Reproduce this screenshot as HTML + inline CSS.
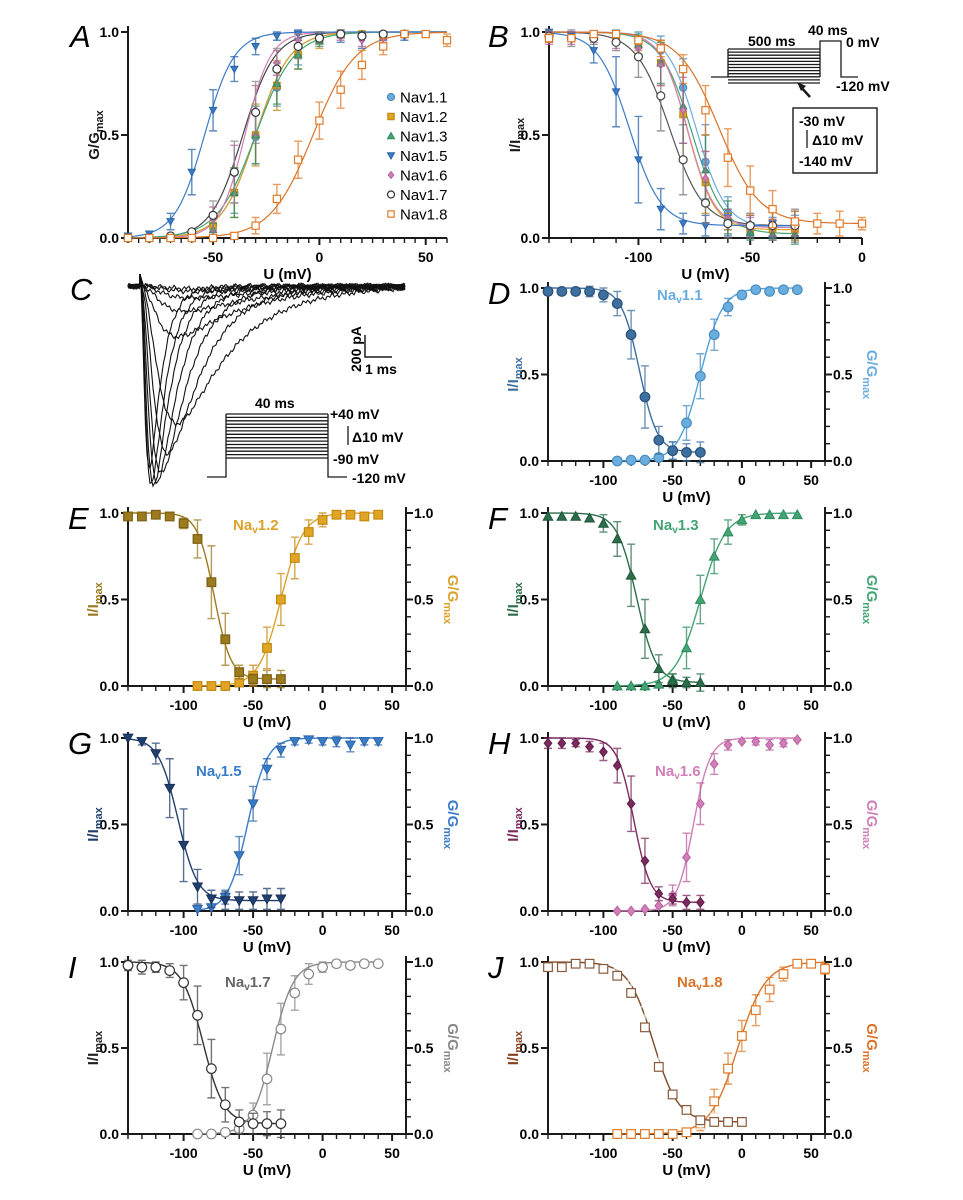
<!DOCTYPE html>
<html><head><meta charset="utf-8">
<style>
html,body{margin:0;padding:0;background:#fff;}
svg{display:block;font-family:"Liberation Sans",Arial,sans-serif;}
.tk{font-weight:bold;font-size:14px;}
.al{font-weight:bold;font-size:15px;}
.pl{font-style:italic;font-size:31px;}
</style></head>
<body>
<svg id="fig" width="963" height="1200" viewBox="0 0 963 1200"></svg>
<script>
// ---------- categories ----------
const vInact = [-140,-130,-120,-110,-100,-90,-80,-70,-60,-50,-40,-30];
const vAct = [-90,-80,-70,-60,-50,-40,-30,-20,-10,0,10,20,30,40];
const vInact18 = [-140,-130,-120,-110,-100,-90,-80,-70,-60,-50,-40,-30,-20,-10,0];
const vAct18 = [-90,-80,-70,-60,-50,-40,-30,-20,-10,0,10,20,30,40,50,60];
const channelNames = ["Nav1.1","Nav1.2","Nav1.3","Nav1.5","Nav1.6","Nav1.7","Nav1.8"];
// ---------- series values ----------
const nav11Inact = [0.98,0.98,0.98,0.98,0.96,0.91,0.73,0.37,0.12,0.06,0.05,0.05];
const nav11InactErr = [0.02,0.02,0.02,0.03,0.04,0.07,0.14,0.18,0.08,0.05,0.05,0.06];
const nav11Act = [0,0.005,0.005,0.02,0.06,0.22,0.49,0.73,0.89,0.96,0.99,0.98,0.99,0.99];
const nav11ActErr = [0,0,0,0.02,0.05,0.10,0.13,0.09,0.05,0.02,0.01,0.01,0.01,0.01];
const nav12Inact = [0.98,0.98,0.99,0.98,0.94,0.85,0.60,0.27,0.08,0.04,0.04,0.04];
const nav12InactErr = [0.01,0.01,0.01,0.01,0.03,0.11,0.21,0.15,0.04,0.03,0.05,0.05];
const nav12Act = [0,0,0,0.02,0.06,0.22,0.50,0.74,0.89,0.96,0.99,0.99,0.98,0.99];
const nav12ActErr = [0,0,0,0,0.06,0.12,0.15,0.12,0.07,0.04,0.01,0.01,0.01,0.01];
const nav13Inact = [0.98,0.98,0.98,0.97,0.94,0.85,0.64,0.33,0.10,0.03,0.02,0.02];
const nav13InactErr = [0.01,0.01,0.01,0.01,0.05,0.10,0.18,0.17,0.08,0.04,0.03,0.05];
const nav13Act = [0,0,0,0.01,0.04,0.22,0.50,0.75,0.89,0.96,0.99,0.99,0.99,0.99];
const nav13ActErr = [0,0,0,0,0.03,0.12,0.14,0.10,0.07,0.03,0.01,0.01,0.01,0.01];
const nav15Inact = [1.0,0.98,0.91,0.71,0.38,0.14,0.07,0.06,0.06,0.06,0.07,0.07];
const nav15InactErr = [0.01,0.02,0.06,0.17,0.21,0.10,0.05,0.05,0.05,0.05,0.06,0.06];
const nav15Act = [0.01,0.02,0.08,0.32,0.62,0.82,0.93,0.98,0.99,0.98,0.98,0.96,0.98,0.98];
const nav15ActErr = [0,0,0.04,0.11,0.10,0.06,0.04,0.02,0.02,0.02,0.03,0.04,0.02,0.02];
const nav16Inact = [0.97,0.97,0.97,0.95,0.92,0.84,0.62,0.29,0.10,0.07,0.05,0.05];
const nav16InactErr = [0.03,0.03,0.02,0.03,0.05,0.10,0.16,0.13,0.04,0.03,0.04,0.04];
const nav16Act = [0,0,0.01,0.03,0.09,0.31,0.62,0.85,0.96,0.98,0.98,0.96,0.97,0.99];
const nav16ActErr = [0,0,0.01,0.01,0.06,0.14,0.12,0.06,0.03,0.01,0.02,0.03,0.02,0.01];
const nav17Inact = [0.98,0.97,0.97,0.95,0.88,0.69,0.38,0.17,0.07,0.06,0.06,0.06];
const nav17InactErr = [0.03,0.04,0.03,0.04,0.10,0.17,0.17,0.10,0.07,0.06,0.07,0.08];
const nav17Act = [0,0,0.01,0.03,0.11,0.32,0.61,0.82,0.93,0.97,0.99,0.98,0.99,0.99];
const nav17ActErr = [0,0,0,0.01,0.07,0.15,0.15,0.10,0.06,0.03,0.02,0.01,0.01,0.01];
const nav18Inact = [0.97,0.97,0.99,0.99,0.96,0.92,0.82,0.62,0.39,0.23,0.14,0.08,0.07,0.07,0.07];
const nav18InactErr = [0.02,0.01,0.01,0.01,0.02,0.04,0.07,0.12,0.14,0.12,0.09,0.05,0.05,0.06,0.03];
const nav18Act = [0,0,0,0,0,0.01,0.06,0.19,0.38,0.57,0.72,0.84,0.93,0.99,0.99,0.96];
const nav18ActErr = [0,0,0,0,0,0.01,0.04,0.07,0.09,0.09,0.09,0.07,0.04,0.01,0.01,0.03];
// Boltzmann fit parameters per channel (order = channelNames)
const fitInactVh = [-74,-78,-76,-104,-78,-86,-64];
const fitInactK = [6.5,6,7,7,6,7.5,9];
const fitInactBottom = [0.05,0.04,0.02,0.06,0.05,0.06,0.07];
const fitActVh = [-30,-30,-30,-54,-35,-36,-3];
const fitActK = [8,8,9,7,6,7.5,10];
// Panel C current traces
const traceAmpPA = [1650,1800,1820,1780,1700,1520,1250,460,230,110,50,25];
const traceRiseMs = [0.15,0.18,0.22,0.28,0.35,0.45,0.55,0.50,0.60,0.70,0.80,0.90];
const traceDecayMs = [0.45,0.55,0.65,0.80,1.00,1.30,2.00,2.50,3.00,3.50,4.00,4.00];

// ---------- helpers ----------
const NS="http://www.w3.org/2000/svg";
const svg=document.getElementById('fig');
function mk(tag,attrs,name,parent,inter){
  const el=document.createElementNS(NS,tag);
  for(const k in attrs) el.setAttribute(k,attrs[k]);
  
  
  (parent||svg).appendChild(el);
  return el;
}
function txt(s,x,y,cls,name,extra,parent){
  const a=Object.assign({x:x,y:y},extra||{});
  if(cls)a['class']=cls;
  const t=mk('text',a,name,parent);
  t.textContent=s;return t;
}
function inactFn(i){return v=>fitInactBottom[i]+(1-fitInactBottom[i])/(1+Math.exp((v-fitInactVh[i])/fitInactK[i]));}
function actFn(i){return v=>1/(1+Math.exp((fitActVh[i]-v)/fitActK[i]));}

const chan=[
 {act:'#6aaee0',actS:'#4a8cc0',ina:'#3d6f9f',inaS:'#2b527a',shape:'circle',curveA:'#4ea3dc',curveI:'#3d6f9f'},
 {act:'#e0a524',actS:'#c48a10',ina:'#9c7a1e',inaS:'#7d6015',shape:'square',curveA:'#dca12a',curveI:'#9c7a1e'},
 {act:'#44a473',actS:'#2f8a5c',ina:'#2c6e4a',inaS:'#1f5538',shape:'tri',curveA:'#44a473',curveI:'#2c6e4a'},
 {act:'#3a7cc8',actS:'#2a64a8',ina:'#213f6e',inaS:'#182f55',shape:'tridown',curveA:'#3a7cc8',curveI:'#213f6e'},
 {act:'#d07fb8',actS:'#b8609e',ina:'#7a2a5e',inaS:'#5e1f48',shape:'diamond',curveA:'#d07fb8',curveI:'#7a2a5e'},
 {act:'#fff',actS:'#8a8a8a',ina:'#fff',inaS:'#333',shape:'circle',curveA:'#8a8a8a',curveI:'#333'},
 {act:'#fff',actS:'#e07b2a',ina:'#fff',inaS:'#8a5a3a',shape:'square',curveA:'#d9742a',curveI:'#7a4a2a'}
];

function marker(g,shape,x,y,fill,stroke,name,s){
  s=s||4.5;
  let el;
  if(shape==='circle') el=mk('circle',{cx:x,cy:y,r:s,fill:fill,stroke:stroke,'stroke-width':1.2},name,g);
  else if(shape==='square') el=mk('rect',{x:x-s*0.9,y:y-s*0.9,width:1.8*s,height:1.8*s,fill:fill,stroke:stroke,'stroke-width':1.2},name,g);
  else if(shape==='tri') el=mk('polygon',{points:`${x},${y-s} ${x+s},${y+s*0.8} ${x-s},${y+s*0.8}`,fill:fill,stroke:stroke,'stroke-width':1},name,g);
  else if(shape==='tridown') el=mk('polygon',{points:`${x},${y+s} ${x+s},${y-s*0.8} ${x-s},${y-s*0.8}`,fill:fill,stroke:stroke,'stroke-width':1},name,g);
  else el=mk('polygon',{points:`${x},${y-s} ${x+s*0.8},${y} ${x},${y+s} ${x-s*0.8},${y}`,fill:fill,stroke:stroke,'stroke-width':1},name,g);
  return el;
}

function makeAxes(p){
  const sx=v=>p.x0+(v-p.xmin)/(p.xmax-p.xmin)*(p.x1-p.x0);
  const sy=v=>p.y0-(v)*(p.y0-p.y1);
  const g=mk('g',{},p.name,svg);
  const ax=mk('g',{stroke:'#1a1a1a','stroke-width':2,fill:'none'},'axes',g);
  mk('line',{x1:p.x0,y1:p.y0,x2:p.x1,y2:p.y0},'x-axis-line',ax);
  mk('line',{x1:p.x0,y1:p.y0,x2:p.x0,y2:p.y1-6},'y-axis-left-line',ax);
  for(let v=p.xmin;v<=p.xmax;v+=p.minor){
    const major=(v%50===0);
    mk('line',{x1:sx(v),y1:p.y0,x2:sx(v),y2:p.y0+(major?7:5),'stroke-width':major?2:1.4},'x-tick',ax);
  }
  for(let v=0;v<=1.001;v+=0.5){
    mk('line',{x1:p.x0-7,y1:sy(v),x2:p.x0,y2:sy(v)},'y-tick-left',ax);
    txt(v.toFixed(1),p.x0-9,sy(v)+5,'tk','y-tick-label',{'text-anchor':'end'},g);
  }
  if(p.dual){
    mk('line',{x1:p.x1,y1:p.y0,x2:p.x1,y2:p.y1-6},'y-axis-right-line',ax);
    for(let k=0;k<=10;k++){
      const v=k/10, major=(k%5===0);
      mk('line',{x1:p.x1,y1:sy(v),x2:p.x1+(major?7:5),y2:sy(v),'stroke-width':major?2:1.4},'y-tick-right',ax);
      if(major) txt(v.toFixed(1),p.x1+8,sy(v)+5,'tk','y-tick-label-right',{},g);
    }
  }
  p.xticks.forEach(v=>txt(String(v),sx(v),p.y0+24,'tk','x-tick-label',{'text-anchor':'middle'},g));
  txt('U (mV)',(p.x0+p.x1)/2,p.y0+41,'al','x-axis-title',{'text-anchor':'middle'},g);
  txt(p.letter,p.lx,p.ly,'pl','panel-letter-'+p.letter.toLowerCase(),{},g);
  return {g,sx,sy};
}

function yTitle(g,x,y,main,sub,color,rot,name){
  const t=mk('text',{x:0,y:0,transform:`translate(${x},${y}) rotate(${rot})`,'text-anchor':'middle',fill:color,'font-weight':'bold','font-size':'15px'},name,g);
  const a=document.createElementNS(NS,'tspan');a.textContent=main;t.appendChild(a);
  const b=document.createElementNS(NS,'tspan');b.setAttribute('font-size','11px');b.setAttribute('dy','4');b.textContent=sub;t.appendChild(b);
}

function curve(g,fn,a,b,sx,sy,color,name,w){
  let d='';
  for(let v=a;v<=b+1e-9;v+=0.5){d+=(d?'L':'M')+sx(v).toFixed(2)+','+sy(fn(v)).toFixed(2);}
  mk('path',{d:d,fill:'none',stroke:color,'stroke-width':w||1.4},name,g);
}
function series(g,xs,ys,es,sx,sy,shape,fill,stroke,ecol,name,s){
  const sg=mk('g',{},name,g);
  xs.forEach((v,i)=>{
    const e=es[i];
    if(e>0.012){
      const x=sx(v);
      mk('path',{d:`M${x},${sy(ys[i]-e)}V${sy(ys[i]+e)}M${x-4},${sy(ys[i]+e)}h8M${x-4},${sy(ys[i]-e)}h8`,stroke:ecol,'stroke-width':1.4,fill:'none','stroke-opacity':0.75},'error-bar',sg);
    }
  });
  xs.forEach((v,i)=>marker(sg,shape,sx(v),sy(ys[i]),fill,stroke,'point',s));
}

const inactData=[[nav11Inact,nav11InactErr],[nav12Inact,nav12InactErr],[nav13Inact,nav13InactErr],[nav15Inact,nav15InactErr],[nav16Inact,nav16InactErr],[nav17Inact,nav17InactErr],[nav18Inact,nav18InactErr]];
const actData=[[nav11Act,nav11ActErr],[nav12Act,nav12ActErr],[nav13Act,nav13ActErr],[nav15Act,nav15ActErr],[nav16Act,nav16ActErr],[nav17Act,nav17ActErr],[nav18Act,nav18ActErr]];

// ---------- Panel A ----------
(function(){
  const p={name:'panel-a',x0:128,x1:447,y0:238,y1:32,xmin:-90,xmax:60,minor:5,xticks:[-50,0,50],letter:'A',lx:70,ly:47};
  const A=makeAxes(p);
  yTitle(A.g,99,135,'G/G','max','#1a1a1a',-90,'y-axis-title');
  [5,0,1,2,4,3,6].forEach(i=>{
    curve(A.g,actFn(i),-90,60,A.sx,A.sy,chan[i].curveA==='#8a8a8a'?'#444':chan[i].curveA,'fit-curve-'+channelNames[i].toLowerCase().replace('.',''),1.2);
  });
  [0,1,2,3,4,5,6].forEach(i=>{
    const xs=i===6?vAct18:vAct;
    const c=chan[i];
    const st=i===5?'#333':c.actS;
    series(A.g,xs,actData[i][0],actData[i][1],A.sx,A.sy,c.shape,c.act,st,c.actS,'series-'+channelNames[i].toLowerCase().replace('.',''),i>=5?4:3.6);
  });
  const lg=mk('g',{},'legend',A.g);
  channelNames.forEach((n,i)=>{
    const y=97+i*19.5, c=chan[i];
    const e=mk('g',{},'legend-entry',lg);
    marker(e,c.shape,391,y,c.act,i===5?'#333':c.actS,'legend-marker',3.5);
    txt(n,400,y+5.5,null,'legend-label',{'font-size':'15px'},e);
  });
})();

// ---------- Panel B ----------
(function(){
  const p={name:'panel-b',x0:549,x1:862,y0:238,y1:32,xmin:-140,xmax:0,minor:10,xticks:[-100,-50,0],letter:'B',lx:488,ly:47};
  const B=makeAxes(p);
  yTitle(B.g,520,135,'I/I','max','#1a1a1a',-90,'y-axis-title');
  [5,0,1,2,4,3,6].forEach(i=>{
    const cc=[ '#6aaee0','#e0a524','#44a473','#3a7cc8','#d07fb8','#555','#d9742a'][i];
    curve(B.g,inactFn(i),-140,i===6?0:-30,B.sx,B.sy,cc,'fit-curve-'+channelNames[i].toLowerCase().replace('.',''),1.2);
  });
  [0,1,2,3,4,5,6].forEach(i=>{
    const xs=i===6?vInact18:vInact, c=chan[i];
    const fill=[ '#6aaee0','#e0a524','#44a473','#3a7cc8','#d07fb8','#fff','#fff'][i];
    const st=[ '#4a8cc0','#c48a10','#2f8a5c','#2a64a8','#b8609e','#444','#e07b2a'][i];
    series(B.g,xs,inactData[i][0],inactData[i][1],B.sx,B.sy,c.shape,fill,st,i===5?'#777':st,'series-'+channelNames[i].toLowerCase().replace('.',''),i>=5?4:3.6);
  });
  const ins=mk('g',{stroke:'#1a1a1a','stroke-width':1.3,fill:'none'},'protocol-inset',B.g);
  mk('path',{d:'M711,77H728M820,77V41H841V77H858'},'protocol-pulse',ins);
  for(let k=0;k<12;k++){const y=49+k*(34/11);mk('path',{d:`M728,${y.toFixed(1)}H820`},'protocol-step',ins);}
  mk('path',{d:'M728,77V49'},'protocol-edge',ins);
  mk('rect',{x:793,y:108,width:84,height:65,'stroke-width':1.4},'protocol-box',ins);
  mk('path',{d:'M810,97L800,86','stroke-width':2.5},'protocol-arrow',ins);
  mk('polygon',{points:'797,82 806,86 801,91',fill:'#1a1a1a',stroke:'none'},'arrow-head',ins);
  mk('line',{x1:807,y1:130,x2:807,y2:148},'delta-bar',ins);
  const tt={'font-weight':'bold','font-size':'14px'};
  txt('500 ms',748,46,null,'protocol-label',tt,B.g);
  txt('40 ms',808,35,null,'protocol-label',tt,B.g);
  txt('0 mV',846,47,null,'protocol-label',tt,B.g);
  txt('-120 mV',836,91,null,'protocol-label',tt,B.g);
  txt('-30 mV',799,126,null,'protocol-label',tt,B.g);
  txt('Δ10 mV',812,145,null,'protocol-label',tt,B.g);
  txt('-140 mV',799,166,null,'protocol-label',tt,B.g);
})();

// ---------- Panel C ----------
(function(){
  const g=mk('g',{},'panel-c',svg);
  txt('C',70,300,'pl','panel-letter-c',{},g);
  const t0=140, base=286, pxPerMs=27, pxPerPA=22/200;
  const tg=mk('g',{fill:'none',stroke:'#111','stroke-width':1.1},'current-traces',g);
  traceAmpPA.forEach((amp,k)=>{
    const tr=traceRiseMs[k], td=traceDecayMs[k];
    let mx=0;
    for(let t=0;t<10;t+=0.01){const f=Math.pow(1-Math.exp(-t/tr),3)*Math.exp(-t/td);if(f>mx)mx=f;}
    let d='M128,'+(base+Math.sin(k)*1.5).toFixed(1);
    for(let x=129;x<=405;x+=1.5){
      let y=base+1.6*Math.sin(x*1.3+k*2.1)+1.2*Math.sin(x*0.47+k);
      if(x>=t0){
        const t=(x-t0)/pxPerMs;
        y+=amp*pxPerPA*Math.pow(1-Math.exp(-t/tr),3)*Math.exp(-t/td)/mx;
        if(x<t0+3) y-=10*(1-(x-t0)/3);
      }
      d+='L'+x+','+y.toFixed(1);
    }
    mk('path',{d:d},'current-trace',tg);
  });
  mk('path',{d:'M140,287V274',stroke:'#111','stroke-width':2,fill:'none'},'capacitive-transient',g);
  const sb=mk('g',{stroke:'#1a1a1a','stroke-width':1.5,fill:'none'},'scale-bar',g);
  mk('path',{d:'M365,335V357H392'},'scale-bar-lines',sb);
  txt('200 pA',361,372,null,'scale-bar-label-pa',{'font-weight':'bold','font-size':'14px',transform:'rotate(-90 361 372)'},g);
  txt('1 ms',365,374,null,'scale-bar-label-ms',{'font-weight':'bold','font-size':'14px'},g);
  const ins=mk('g',{stroke:'#1a1a1a','stroke-width':1.3,fill:'none'},'protocol-inset-c',g);
  mk('path',{d:'M207,477H226V414M328,414V477H347'},'protocol-pulse',ins);
  for(let k=0;k<14;k++){const y=414+k*(44/13);mk('path',{d:`M226,${y.toFixed(1)}H328`},'protocol-step',ins);}
  mk('line',{x1:348,y1:426,x2:348,y2:445},'delta-bar',ins);
  const tt={'font-weight':'bold','font-size':'14px'};
  txt('40 ms',255,408,null,'protocol-label',tt,g);
  txt('+40 mV',330,419,null,'protocol-label',tt,g);
  txt('Δ10 mV',352,442,null,'protocol-label',tt,g);
  txt('-90 mV',333,464,null,'protocol-label',tt,g);
  txt('-120 mV',352,483,null,'protocol-label',tt,g);
})();

// ---------- Dual panels D-J ----------
const duals=[
 {i:0,letter:'D',col:1,row:0,lab:[657,300]},
 {i:1,letter:'E',col:0,row:1,lab:[233,530]},
 {i:2,letter:'F',col:1,row:1,lab:[653,530]},
 {i:3,letter:'G',col:0,row:2,lab:[196,776]},
 {i:4,letter:'H',col:1,row:2,lab:[655,776]},
 {i:5,letter:'I',col:0,row:3,lab:[225,987]},
 {i:6,letter:'J',col:1,row:3,lab:[677,987]}
];
const rowsY=[[461,288],[686,513],[911,738],[1134,962]];
duals.forEach(D=>{
  const x0=D.col?548:128, x1=D.col?825:406;
  const [y0,y1]=rowsY[D.row];
  const p={name:'panel-'+D.letter.toLowerCase(),x0,x1,y0,y1,xmin:-140,xmax:60,minor:10,xticks:[-100,-50,0,50],letter:D.letter,lx:x0-60,ly:y1+16,dual:true};
  const P=makeAxes(p);
  const i=D.i, c=chan[i];
  const lc=[ '#3d6f9f','#9c7a1e','#2c6e4a','#213f6e','#7a2a5e','#222','#8a4020'][i];
  const rc=[ '#6aaee0','#dca12a','#44a473','#3a7cc8','#d07fb8','#888','#d9742a'][i];
  yTitle(P.g,x0-30,(y0+y1)/2,'I/I','max',lc,-90,'y-axis-title-left');
  yTitle(P.g,x1+42,(y0+y1)/2,'G/G','max',rc,90,'y-axis-title-right');
  const ln=mk('text',{x:D.lab[0],y:D.lab[1],fill:(i===5?'#666':rc),'font-weight':'bold','font-size':'15px'},'channel-label',P.g);
  ln.textContent='Na';
  const sub=document.createElementNS(NS,'tspan');sub.setAttribute('font-size','10px');sub.setAttribute('dy','3');sub.textContent='v';ln.appendChild(sub);
  const rest=document.createElementNS(NS,'tspan');rest.setAttribute('dy','-3');rest.textContent=channelNames[i].slice(3);ln.appendChild(rest);
  const xi=i===6?vInact18:vInact, xa=i===6?vAct18:vAct;
  curve(P.g,inactFn(i),-140,i===6?0:-30,P.sx,P.sy,c.curveI,'inactivation-fit');
  curve(P.g,actFn(i),-90,i===6?60:40,P.sx,P.sy,c.curveA,'activation-fit');
  series(P.g,xa,actData[i][0],actData[i][1],P.sx,P.sy,c.shape,c.act,c.actS,c.actS,'activation-series',4.8);
  series(P.g,xi,inactData[i][0],inactData[i][1],P.sx,P.sy,c.shape,c.ina,c.inaS,i===5?'#444':c.ina,'inactivation-series',4.8);
});
</script>
</body></html>
